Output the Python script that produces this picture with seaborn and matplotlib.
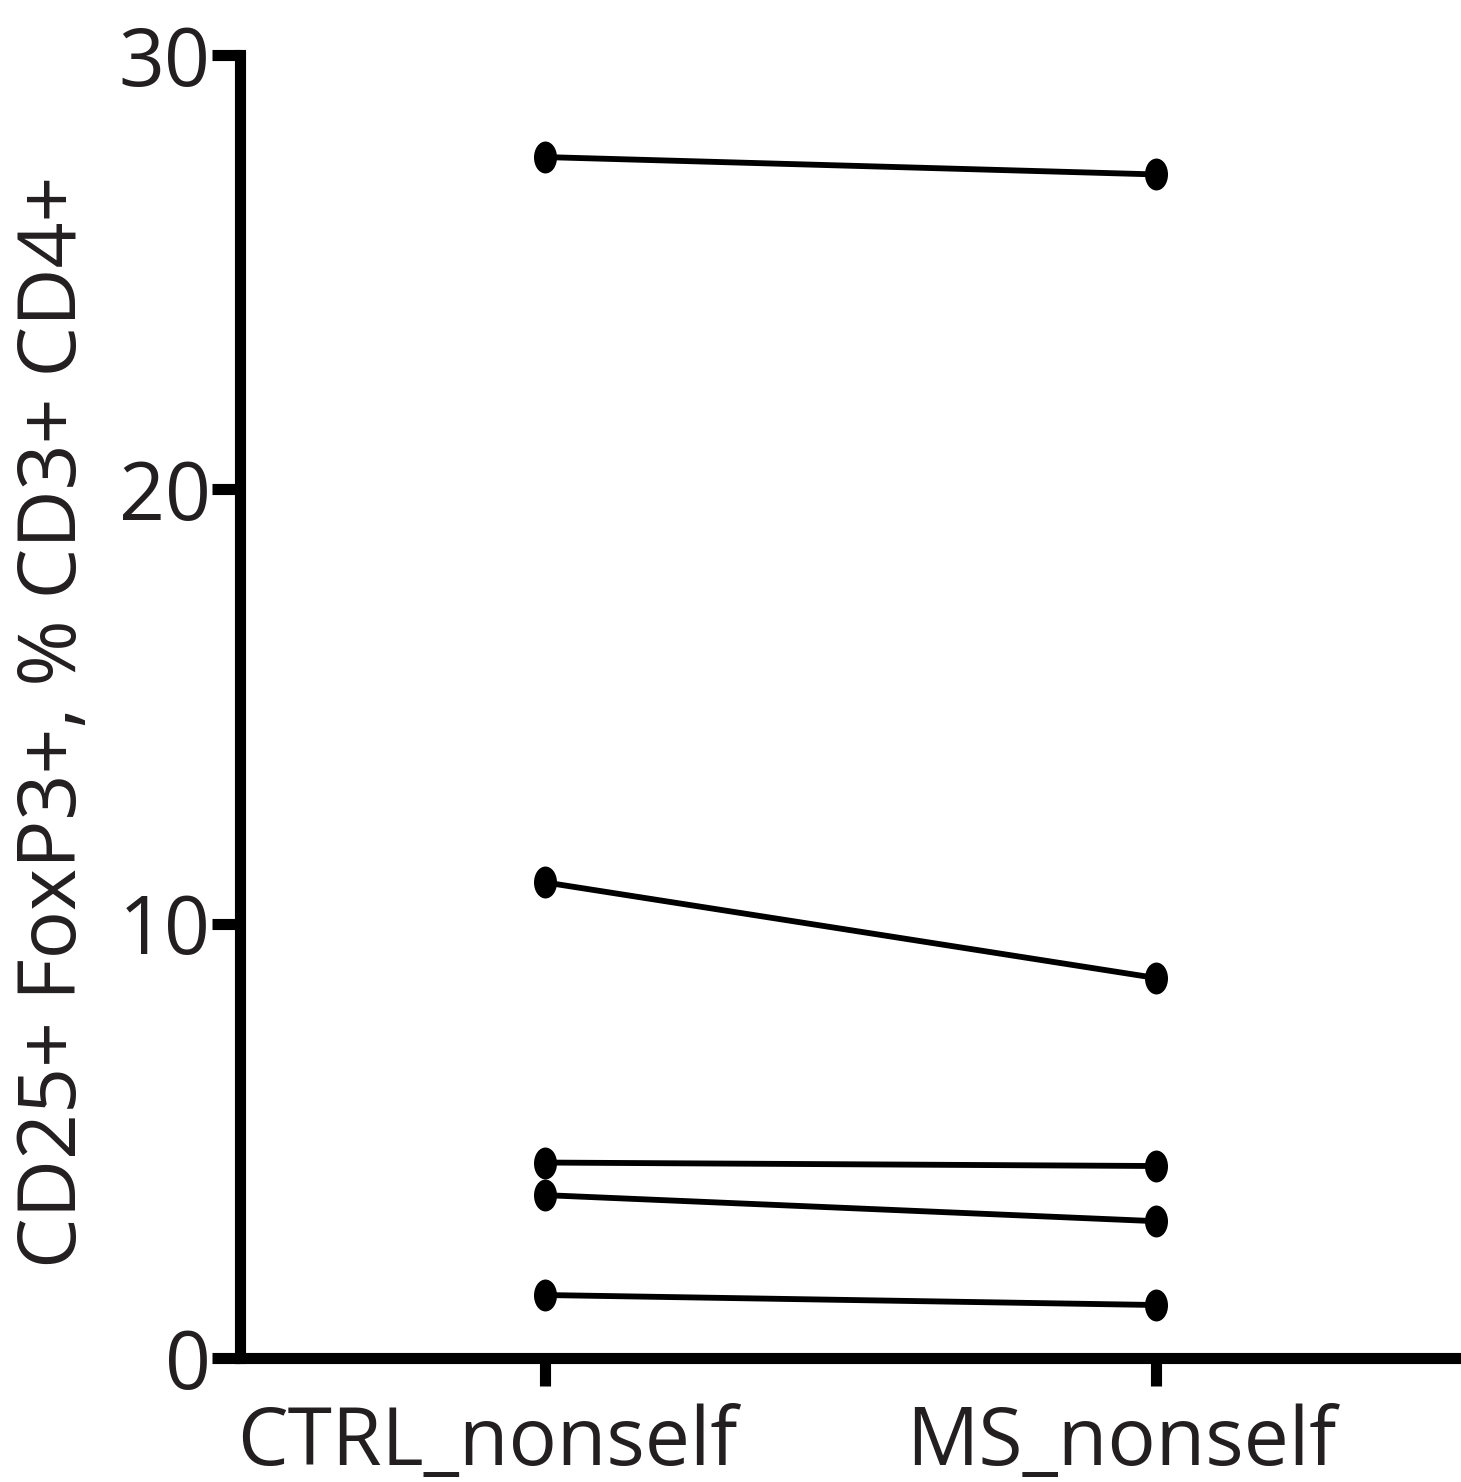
import numpy as np
import pandas as pd
import matplotlib
matplotlib.use("Agg")
import matplotlib.pyplot as plt
from matplotlib.path import Path
from matplotlib.transforms import Affine2D, ScaledTranslation
import seaborn as sns

categories = ["CTRL_nonself", "MS_nonself"]
ctrl_values = [27.65, 10.95, 4.5, 3.75, 1.45]
ms_values = [27.25, 8.75, 4.42, 3.15, 1.22]
y_ticks = [0, 10, 20, 30]
y_label = "CD25+ FoxP3+, % CD3+ CD4+"

rows = []
for i, (a, b) in enumerate(zip(ctrl_values, ms_values)):
    rows.append({"subject": i, "group": categories[0], "value": a})
    rows.append({"subject": i, "group": categories[1], "value": b})
df = pd.DataFrame(rows)

sns.set_style("ticks")
plt.rcParams['font.family'] = ['Open Sans', 'DejaVu Sans']

fig = plt.figure(figsize=(14.61, 14.82), dpi=100)
ax = fig.add_axes([240/1461, (1482-1358)/1482, 1 - 240/1461, (1358-55)/1482])

ellipse = Path.unit_circle().transformed(Affine2D().scale(0.72, 1.0))

sns.lineplot(data=df, x="group", y="value", units="subject", estimator=None,
             color="black", linewidth=4.2, marker=ellipse, markersize=23,
             markeredgewidth=0, ax=ax, legend=False, sort=False)

ax.set_xlim(-0.5, 1.5)
ax.set_ylim(0, 30)
ax.set_yticks(y_ticks)
ax.set_yticklabels([str(t) for t in y_ticks])
ax.set_xlabel("")
ax.set_ylabel(y_label, fontsize=58, color="#231f20", labelpad=17)
ax.yaxis.label.set_y(0.488)
for s in ["top", "right"]:
    ax.spines[s].set_visible(False)
for s in ["left", "bottom"]:
    ax.spines[s].set_linewidth(8)
    ax.spines[s].set_color("black")
    ax.spines[s].set_clip_on(False)
ax.tick_params(axis="both", width=8, length=20, color="black",
               labelsize=58, labelcolor="#231f20")
ax.tick_params(axis="y", pad=1)
ax.tick_params(axis="x", pad=13)
for line in ax.lines:
    line.set_clip_on(False)

x_offsets = [-0.58, -0.34]
for lbl, dx in zip(ax.get_xticklabels(), x_offsets):
    lbl.set_transform(lbl.get_transform() + ScaledTranslation(dx, 0, fig.dpi_scale_trans))

fig.savefig("out.png", dpi=100, facecolor="white")
